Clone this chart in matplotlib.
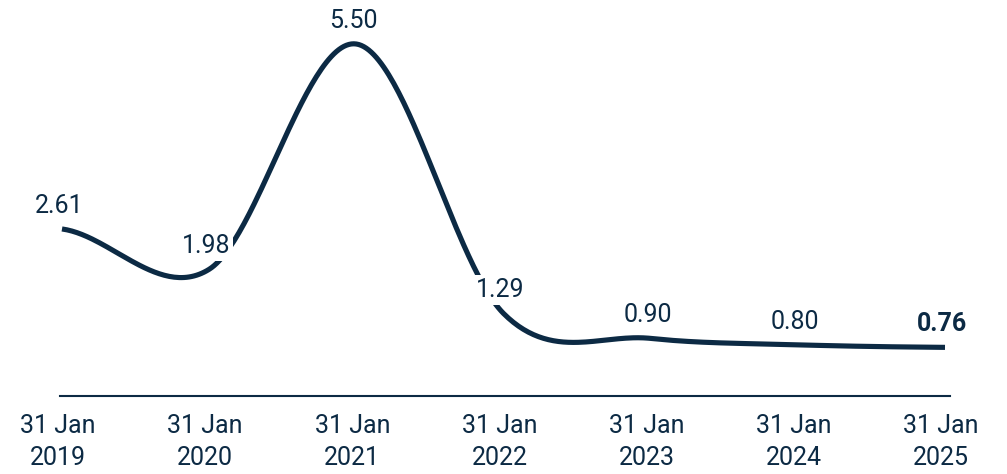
import numpy as np
import matplotlib
matplotlib.use("Agg")
from matplotlib import pyplot as plt
from matplotlib import transforms

dates = ["31 Jan\n2019", "31 Jan\n2020", "31 Jan\n2021", "31 Jan\n2022",
         "31 Jan\n2023", "31 Jan\n2024", "31 Jan\n2025"]
values = [2.61, 1.98, 5.50, 1.29, 0.90, 0.80, 0.76]
labels = ["2.61", "1.98", "5.50", "1.29", "0.90", "0.80", "0.76"]

navy = "#0c2a44"
plt.rcParams["font.family"] = ["Roboto", "DejaVu Sans"]

x = np.arange(len(values), dtype=float)
y = np.array(values)

# catmull-rom tangents, halved one-sided slope at the ends
m = np.zeros_like(y)
m[1:-1] = (y[2:] - y[:-2]) / 2
m[0] = (y[1] - y[0]) / 2
m[-1] = (y[-1] - y[-2]) / 2

xs, ys = [], []
t = np.linspace(0, 1, 60)
h00 = 2 * t**3 - 3 * t**2 + 1
h10 = t**3 - 2 * t**2 + t
h01 = -2 * t**3 + 3 * t**2
h11 = t**3 - t**2
for i in range(len(y) - 1):
    xs.append(x[i] + t)
    ys.append(h00 * y[i] + h10 * m[i] + h01 * y[i + 1] + h11 * m[i + 1])
xs = np.concatenate(xs)
ys = np.concatenate(ys)

fig = plt.figure(figsize=(10.07, 4.74), dpi=100)
ax = fig.add_axes([60 / 1007, 78 / 474, 890 / 1007, 352 / 474])
ax.set_xlim(-2 / 147.2, 6 + 5 / 147.2)
ax.set_ylim(0, 5.5)

ax.plot(xs, ys, color=navy, lw=3.7, solid_capstyle="butt", clip_on=False, zorder=2)

for i, (xv, yv, lab) in enumerate(zip(x, y, labels)):
    ax.annotate(lab, (xv, yv), xytext=(-3, 23), textcoords="offset pixels",
                ha="center", va="center", fontsize=18, color=navy,
                fontweight="bold" if i == len(y) - 1 else "normal",
                bbox=dict(boxstyle="square,pad=0.12", fc="white", ec="none"),
                zorder=3, annotation_clip=False)

for s in ["top", "right", "left"]:
    ax.spines[s].set_visible(False)
ax.spines["bottom"].set_color(navy)
ax.spines["bottom"].set_linewidth(1.5)
ax.set_yticks([])
ax.set_xticks(x)
ax.set_xticklabels(dates, fontsize=18, color=navy, linespacing=1.4)
ax.tick_params(axis="x", length=0, pad=13)
shift = transforms.ScaledTranslation(-4 / 100, 0, fig.dpi_scale_trans)
for lbl in ax.get_xticklabels():
    lbl.set_transform(lbl.get_transform() + shift)

fig.savefig("out.png", dpi=100)
